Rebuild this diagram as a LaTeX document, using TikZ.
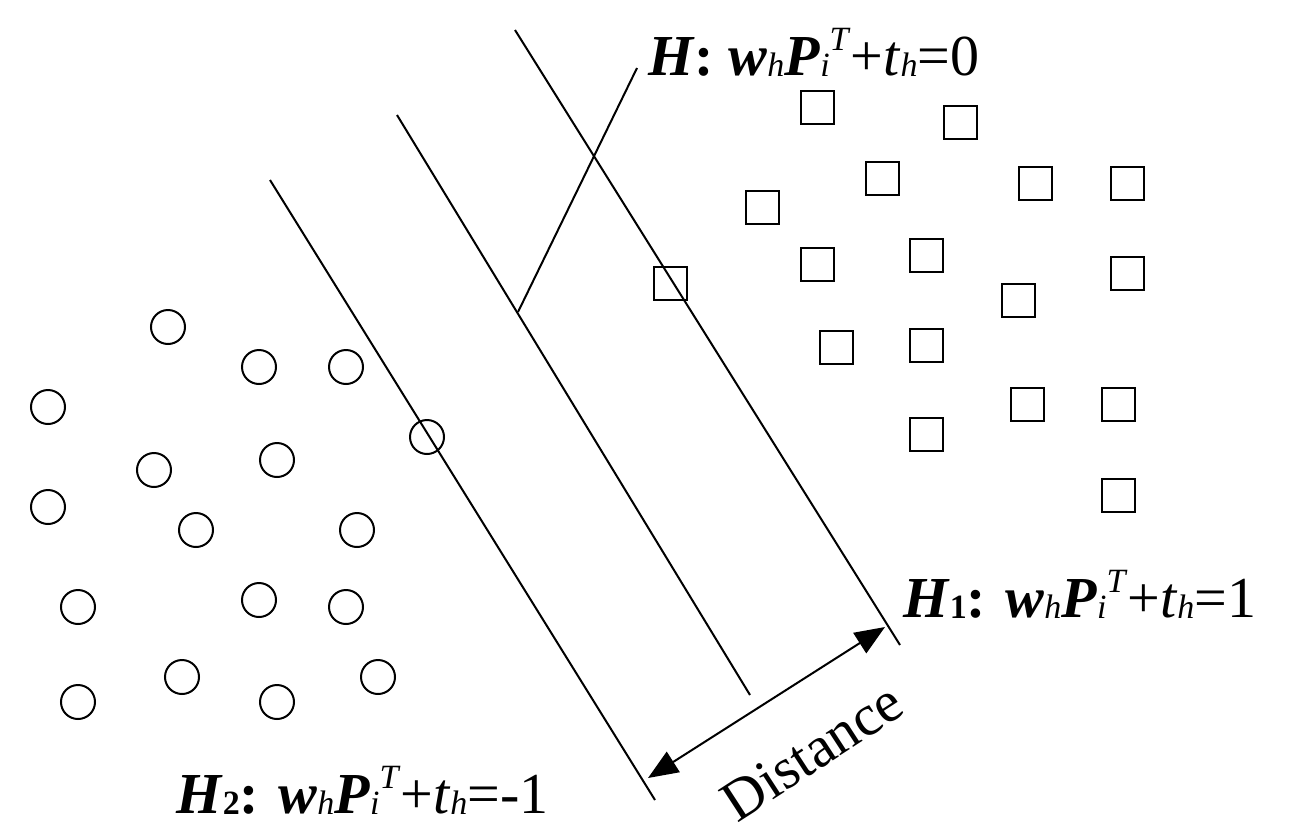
\documentclass[tikz,border=0pt]{standalone}
\usepackage{fontspec}
\setmainfont{Liberation Serif}
\usetikzlibrary{arrows.meta}
\newcommand{\lsub}[1]{\raisebox{-0.02em}{\fontsize{34}{34}\selectfont #1}}
\newcommand{\lsup}[1]{\raisebox{0.42em}{\fontsize{34}{34}\selectfont #1}}
\newcommand{\lbl}[2]{\fontsize{58}{64}\selectfont\textbf{\textit{H}#1: \textit{w}}\lsub{\textit{h}}\textbf{\textit{P}}\lsub{\textit{i}}\lsup{\textit{T}}+\textit{t}\lsub{\textit{h}}=#2}
\begin{document}
\begin{tikzpicture}[x=1pt,y=-1pt,
  pt/.style={draw,circle,line width=2pt,minimum size=34pt,inner sep=0pt},
  sq/.style={draw,line width=2pt,minimum size=33pt,inner sep=0pt},
  ln/.style={line width=2pt}]
\useasboundingbox (0,0) rectangle (1316,838);
\coordinate (a1) at (270,180); \coordinate (a2) at (655,800);
\coordinate (b1) at (397,115); \coordinate (b2) at (750,695);
\coordinate (c1) at (515,30); \coordinate (c2) at (900,645);
\draw[ln] (a1)--(a2); \draw[ln] (b1)--(b2); \draw[ln] (c1)--(c2);
\coordinate (p1) at (518,312); \coordinate (p2) at (637,68);
\draw[ln] (p1)--(p2);
\coordinate (d1) at (648,778); \coordinate (d2) at (885,627);
\draw[ln,{Triangle[length=30pt,width=24pt]}-{Triangle[length=30pt,width=24pt]}] (d1)--(d2);
\node[rotate=33,font=\fontsize{58}{64}\selectfont,inner sep=0] (dist) at (812,752) {Distance};
\node[anchor=base west,inner sep=0] (lh) at (648,75) {\lbl{}{0}};
\node[anchor=base west,inner sep=0] (lh1) at (903,617) {\lbl{\lsub{\textbf{1}}}{1}};
\node[anchor=base west,inner sep=0] (lh2) at (176,813) {\lbl{\lsub{\textbf{2}}}{-1}};
\foreach \x/\y [count=\i] in {168/327,259/367,346/367,48/407,427/437,154/470,277/460,48/507,196/530,357/530,78/607,259/600,346/607,78/702,182/677,277/702,378/677}
  \node[pt] (c\i) at (\x,\y) {};
\foreach \x/\y [count=\i] in {817/107,960/122,882/178,1035/183,1127/183,762/207,670/283,817/264,926/255,1127/273,1018/300,836/347,926/345,1027/404,1118/404,926/434,1118/495}
  \node[sq] (s\i) at (\x,\y) {};
\end{tikzpicture}
\end{document}
